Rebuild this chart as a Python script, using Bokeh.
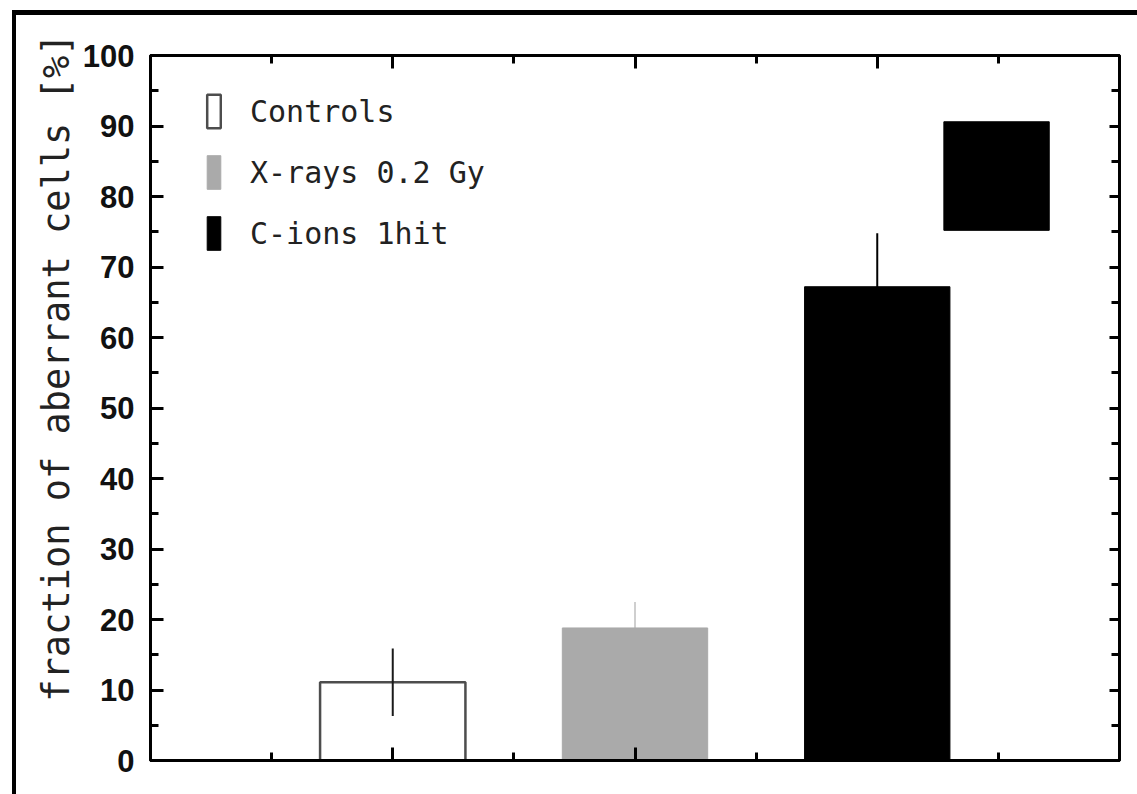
from bokeh.plotting import figure
from bokeh.models import (Range1d, LinearAxis, FixedTicker, CustomJSTickFormatter,
                          Legend, LegendItem, ColumnDataSource, Title)
from bokeh.embed import file_html
from bokeh.resources import INLINE

# ---- data ----
groups = ["Controls", "X-rays 0.2 Gy", "C-ions 1hit"]
xpos = [2, 4, 6]
values = [11.1, 18.8, 67.2]
errors = [4.8, 3.7, 7.6]
fills = ["white", "#aaaaaa", "black"]
err_colors = ["#1a1a1a", "#cfcfcf", "black"]
y_ticks = list(range(0, 101, 10))
y_minor = list(range(5, 100, 10))
x_major = [2, 4, 6]
x_minor = [1, 3, 5, 7]
y_title = "fraction of aberrant cells [%]"
# unexplained black block in upper right of original figure
block_left = [6.55]
block_right = [7.42]
block_bottom = [75.2]
block_top = [90.6]

p = figure(frame_width=969, frame_height=705,
           min_border_left=134, min_border_top=40, min_border_right=18, min_border_bottom=34,
           x_range=Range1d(0, 8), y_range=Range1d(0, 100),
           output_backend="svg", toolbar_location=None, x_axis_location=None,
           y_axis_location=None,
           styles={"margin-left": "12px", "margin-top": "10px",
                   "border-left": "4px solid black", "border-top": "5px solid black"})
p.grid.visible = False
p.background_fill_color = "white"
p.border_fill_color = "white"
p.outline_line_color = "black"
p.outline_line_width = 3

def style_axis(ax, major_in, minor_in, labels):
    ax.axis_line_color = "black"
    ax.axis_line_width = 3
    ax.major_tick_in = major_in
    ax.major_tick_out = 0
    ax.minor_tick_in = minor_in
    ax.minor_tick_out = 0
    ax.major_tick_line_width = 3
    ax.minor_tick_line_width = 3
    if not labels:
        ax.formatter = CustomJSTickFormatter(code="return ''")
        ax.major_label_text_font_size = "1px"

yt = dict(ticks=y_ticks, minor_ticks=y_minor)
xt = dict(ticks=x_major, minor_ticks=x_minor)

left = LinearAxis(ticker=FixedTicker(**yt))
style_axis(left, 13, 8, True)
left.major_label_text_font = "Liberation Sans"
left.major_label_text_font_style = "bold"
left.major_label_text_font_size = "31px"
left.major_label_text_color = "#111111"
left.major_label_standoff = 16
p.add_layout(left, "left")

# y title as a left-side Title so it can sit off-centre like the original
ttl = Title(text=y_title, align="right", offset=-22, standoff=4,
            text_font="DejaVu Sans Mono", text_font_style="normal",
            text_font_size="37px", text_color="#222222")
p.add_layout(ttl, "left")

right = LinearAxis(ticker=FixedTicker(**yt))
style_axis(right, 10, 8, False)
p.add_layout(right, "right")

bottom = LinearAxis(ticker=FixedTicker(**xt))
style_axis(bottom, 13, 8, False)
p.add_layout(bottom, "below")

top = LinearAxis(ticker=FixedTicker(**xt))
style_axis(top, 13, 8, False)
p.add_layout(top, "above")

src = ColumnDataSource(dict(x=xpos, top=values, fill=fills,
                            lo=[v - e for v, e in zip(values, errors)],
                            hi=[v + e for v, e in zip(values, errors)],
                            ec=err_colors))
r_ctrl = p.vbar(x=[xpos[0]], top=[values[0]], width=1.2, bottom=0,
                fill_color=None, line_color="#4d4d4d", line_width=2.5)
p.segment(x0="x", x1="x", y0="lo", y1="hi", line_color="ec", line_width=2, source=src)
r_x = p.vbar(x=[xpos[1]], top=[values[1]], width=1.2, bottom=0,
             fill_color=fills[1], line_color=fills[1], line_width=1)
r_c = p.vbar(x=[xpos[2]], top=[values[2]], width=1.2, bottom=0,
             fill_color=fills[2], line_color=fills[2], line_width=1)
p.quad(left=block_left, right=block_right, bottom=block_bottom, top=block_top,
       fill_color="black", line_color="black")

legend = Legend(items=[LegendItem(label=groups[0], renderers=[r_ctrl]),
                       LegendItem(label=groups[1], renderers=[r_x]),
                       LegendItem(label=groups[2], renderers=[r_c])],
                location=(55, 506), orientation="vertical",
                glyph_width=17, glyph_height=42, label_height=42, spacing=19,
                label_standoff=28, padding=0, margin=0,
                border_line_color=None, background_fill_alpha=0,
                label_text_font="DejaVu Sans Mono", label_text_font_size="30px",
                label_text_color="#222222", label_text_baseline="middle")
p.add_layout(legend, "center")

open("out.html", "w").write(file_html(p, INLINE))
